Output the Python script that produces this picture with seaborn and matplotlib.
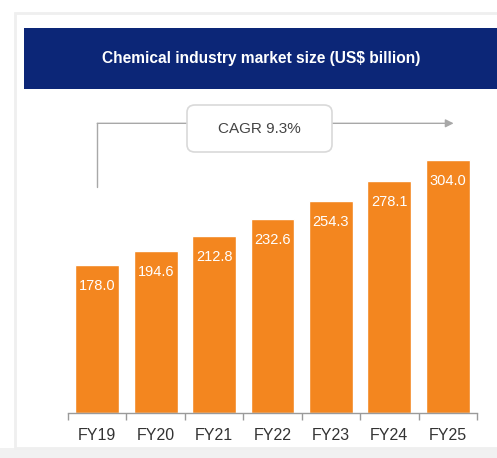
#%%
'''PACKAGE IMPORTS'''
import pandas as pd
import matplotlib.pyplot as plt
import numpy as np
import seaborn as sns
from matplotlib.patches import Rectangle, FancyBboxPatch

#%%
'''Chart data'''
years = ['FY19', 'FY20', 'FY21', 'FY22', 'FY23', 'FY24', 'FY25']
marketSize = [178.0, 194.6, 212.8, 232.6, 254.3, 278.1, 304.0]
cagrLabel = 'CAGR 9.3%'
title = 'Chemical industry market size (US$ billion)'

orange = '#f3861f'
navy = '#0c2677'

df = pd.DataFrame({'year': years, 'size': marketSize})

#%%
sns.set_style('white')
plt.rcParams['font.family'] = ['Liberation Sans Narrow', 'Liberation Sans', 'DejaVu Sans']

W, H = 497, 458
fig = plt.figure(figsize = (W/100, H/100), dpi = 100)
fig.patch.set_facecolor('white')

#Card background and page band
fig.patches.append(Rectangle((0, 0), 1, 10/H, transform = fig.transFigure,
                             facecolor = '#f1f1f1', edgecolor = 'none', zorder = -2))
fig.patches.append(Rectangle((15/W, 10/H), 1, (H - 23)/H, transform = fig.transFigure,
                             facecolor = 'white', edgecolor = '#efefef', lw = 2, zorder = -2))

#Header band
fig.patches.append(Rectangle((24/W, (H - 89)/H), (W - 24)/W, 61/H,
                             transform = fig.transFigure,
                             facecolor = navy, edgecolor = 'none', zorder = -1))
fig.text(261/W, (H - 58)/H, title, color = 'white', fontsize = 11.2,
         fontweight = 'bold', ha = 'center', va = 'center')

#Bars
ax = fig.add_axes([68/W, 45/H, 409/W, 313/H])
ax.set_facecolor('none')
sns.barplot(data = df, x = 'year', y = 'size', color = orange,
            saturation = 1, width = 0.75, ax = ax)

for i, v in enumerate(marketSize):
    ax.text(i, v - 25, f'{v:.1f}', color = 'white', fontsize = 10.5,
            ha = 'center', va = 'center')

#Axis styling
ax.set_xlim(-0.5, len(years) - 0.5)
ax.set_ylim(0, 376)
ax.set_xlabel('')
ax.set_ylabel('')
ax.set_yticks([])
for s in ['top', 'right', 'left']:
    ax.spines[s].set_visible(False)
ax.spines['bottom'].set_color('#9a9a9a')
ax.spines['bottom'].set_linewidth(1)
ax.set_xticks(np.arange(-0.5, len(years)), minor = True)
ax.tick_params(axis = 'x', which = 'major', length = 0, pad = 11,
               labelsize = 11.5, labelcolor = '#333333')
ax.tick_params(axis = 'x', which = 'minor', bottom = True, length = 5, width = 1,
               color = '#9a9a9a', direction = 'out')

#CAGR bracket
lineCol = '#a8a8a8'
ax.plot([0, 0], [272, 348], color = lineCol, lw = 1, clip_on = False)
ax.annotate('', xy = (6.1, 348), xytext = (0, 348),
            arrowprops = dict(arrowstyle = '-|>', color = lineCol, lw = 1,
                              mutation_scale = 12, shrinkA = 0, shrinkB = 0),
            annotation_clip = False)

fig.patches.append(FancyBboxPatch((187/W, (H - 152)/H), 145/W, 47/H,
                                  boxstyle = 'round,pad=0,rounding_size=0.016',
                                  transform = fig.transFigure,
                                  facecolor = 'white', edgecolor = '#d9d9d9',
                                  lw = 1.2, zorder = 5))
fig.text(259/W, (H - 129)/H, cagrLabel, color = '#444444', fontsize = 11,
         ha = 'center', va = 'center', zorder = 6)

plt.savefig('out.png', dpi = 100)
